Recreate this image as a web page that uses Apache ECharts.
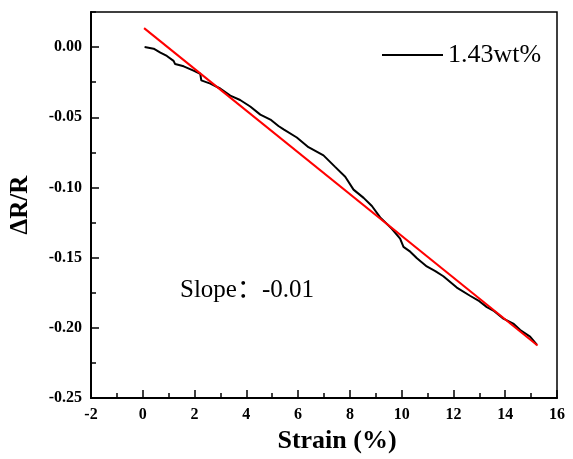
<!DOCTYPE html>
<html>
<head>
<meta charset="utf-8">
<script src="https://cdn.jsdelivr.net/npm/echarts@6/dist/echarts.min.js"></script>
<style>html,body{margin:0;padding:0;background:#fff}#c{width:573px;height:459px}</style>
</head>
<body>
<div id="c"></div>
<script>
const strainX = [0.07,0.42,0.68,0.93,1.19,1.25,1.58,1.96,2.22,2.26,2.61,2.99,3.38,3.76,4.15,4.54,4.93,5.24,5.44,5.95,6.40,6.98,7.43,7.82,8.14,8.53,8.85,9.17,9.62,9.94,10.07,10.33,10.59,10.97,11.3,11.61,12.13,12.64,13.0,13.29,13.54,13.93,14.31,14.58,14.96,15.22];
const drR = [0.000,-0.0011,-0.0039,-0.0063,-0.0098,-0.0121,-0.0137,-0.0167,-0.019,-0.0237,-0.026,-0.0295,-0.0346,-0.0377,-0.0423,-0.0481,-0.0516,-0.0562,-0.0586,-0.0644,-0.0713,-0.0771,-0.0853,-0.0923,-0.1015,-0.1074,-0.1132,-0.1213,-0.1294,-0.1364,-0.1423,-0.1457,-0.1504,-0.1562,-0.1595,-0.1632,-0.1713,-0.1771,-0.181,-0.1852,-0.1876,-0.1934,-0.1969,-0.2015,-0.2062,-0.212];
const fitX = [0.05, 15.25];
const fitY = [0.0135, -0.2125];
const seriesName = '1.43wt%';
const slopeText = 'Slope：-0.01';

const serif = '"Times New Roman","Liberation Serif",serif';
const chart = echarts.init(document.getElementById('c'), null, {renderer: 'canvas'});
const blackData = strainX.map((x, i) => [x, drR[i]]);
const redData = fitX.map((x, i) => [x, fitY[i]]);

chart.setOption({
  animation: false,
  backgroundColor: '#fff',
  grid: {left: 91, right: 16, top: 12, bottom: 52, show: true, borderColor: '#000', borderWidth: 1.5, backgroundColor: 'transparent'},
  legend: {
    data: [seriesName], left: 377, top: 37, icon: 'rect', itemWidth: 61, itemHeight: 2,
    textStyle: {fontFamily: serif, fontSize: 26, color: '#000'}
  },
  graphic: [{
    type: 'text', left: 180, top: 278,
    style: {text: slopeText, font: '25px "Liberation Serif","Noto Sans CJK SC",serif', fill: '#000'}
  }],
  xAxis: [{
    type: 'value', min: -2, max: 16, interval: 2, position: 'bottom',
    name: 'Strain (%)', nameLocation: 'middle', nameGap: 24,
    nameTextStyle: {fontFamily: serif, fontSize: 26, fontWeight: 'bold', color: '#000', padding: [0, 0, 0, 26]},
    axisLine: {show: true, onZero: false, lineStyle: {color: '#000', width: 2}},
    axisTick: {show: true, inside: true, length: 8, lineStyle: {color: '#000', width: 1.5}},
    axisLabel: {fontFamily: serif, fontSize: 16, fontWeight: 'bold', color: '#000', margin: 9},
    splitLine: {show: false}
  }, {
    type: 'value', min: -2, max: 16, interval: 1, position: 'bottom',
    axisLine: {show: false, onZero: false},
    axisTick: {show: true, inside: true, length: 5, lineStyle: {color: '#000', width: 1.5}},
    axisLabel: {show: false}, splitLine: {show: false}
  }],
  yAxis: [{
    type: 'value', min: -0.25, max: 0.025, interval: 0.05, position: 'left',
    name: 'ΔR/R', nameLocation: 'middle', nameGap: 58, nameRotate: 90,
    nameTextStyle: {fontFamily: serif, fontSize: 25, fontWeight: 'bold', color: '#000'},
    axisLine: {show: true, onZero: false, lineStyle: {color: '#000', width: 2}},
    axisTick: {show: true, inside: true, length: 8, lineStyle: {color: '#000', width: 1.5}},
    axisLabel: {fontFamily: serif, fontSize: 16, fontWeight: 'bold', color: '#000', margin: 9,
      showMaxLabel: false, formatter: v => (Math.abs(v) < 1e-9 ? '0.00' : v.toFixed(2))},
    splitLine: {show: false}
  }, {
    type: 'value', min: -0.25, max: 0.025, interval: 0.025, position: 'left',
    axisLine: {show: false, onZero: false},
    axisTick: {show: true, inside: true, length: 5, lineStyle: {color: '#000', width: 1.5}},
    axisLabel: {show: false}, splitLine: {show: false}
  }],
  series: [{
    name: seriesName, type: 'line', data: blackData, xAxisIndex: 0, yAxisIndex: 0,
    showSymbol: false, symbol: 'none', lineStyle: {color: '#000', width: 2}, itemStyle: {color: '#000'}, z: 3
  }, {
    name: 'fit', type: 'line', data: redData, xAxisIndex: 0, yAxisIndex: 0,
    showSymbol: false, symbol: 'none', lineStyle: {color: '#ff0000', width: 2}, itemStyle: {color: '#ff0000'}, z: 4
  }]
});
</script>
</body>
</html>
